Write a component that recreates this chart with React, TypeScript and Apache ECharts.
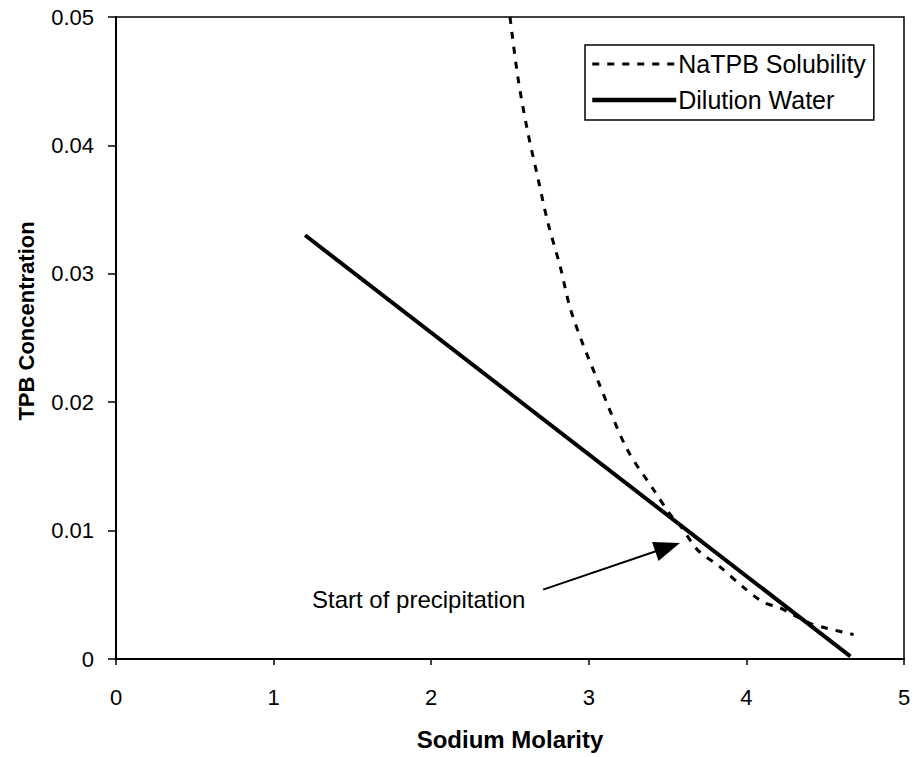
import React, { useEffect, useRef } from "react";
import * as echarts from "echarts";

const solubilityX = [2.5, 2.55, 2.61, 2.68, 2.74, 2.82, 2.88, 2.96, 3.06, 3.24, 3.41, 3.52, 3.58, 3.69, 3.83, 3.98, 4.11, 4.21, 4.4, 4.51, 4.68];
const solubilityY = [0.05, 0.0453, 0.0412, 0.0373, 0.034, 0.0305, 0.0274, 0.0246, 0.0216, 0.0164, 0.0132, 0.0112, 0.0104, 0.0085, 0.0072, 0.0056, 0.0044, 0.004, 0.0028, 0.0024, 0.0019];
const dilutionX = [1.2, 4.66];
const dilutionY = [0.033, 0.0002];
const arrowFrom = [2.71, 0.0054];
const arrowTo = [3.5, 0.0087];
const annotation = "Start of precipitation";
const seriesNames = ["NaTPB Solubility", "Dilution Water"];
const xTitle = "Sodium Molarity";
const yTitle = "TPB Concentration";

const FONT = "'Liberation Sans', Arial, sans-serif";

export default function App() {
  const ref = useRef<HTMLDivElement>(null);
  useEffect(() => {
    document.body.style.margin = "0";
    if (!ref.current) return;
    const chart = echarts.init(ref.current, null, { renderer: "svg" });
    chart.setOption({
      animation: false,
      backgroundColor: "#fff",
      grid: {
        left: 116,
        right: 10,
        top: 17,
        bottom: 98,
        show: true,
        borderColor: "#000",
        borderWidth: 1.5,
      },
      legend: {
        left: 585,
        top: 45,
        orient: "vertical",
        padding: [6, 8, 7, 5],
        borderColor: "#000",
        borderWidth: 1.5,
        backgroundColor: "#fff",
        itemWidth: 84,
        itemHeight: 14,
        itemGap: 10,
        itemStyle: { opacity: 0 },
        textStyle: { fontFamily: FONT, fontSize: 25, lineHeight: 26, color: "#000", padding: [0, 0, 0, -3] },
        data: [
          { name: seriesNames[0], lineStyle: { width: 3, type: [7, 8], color: "#000" } },
          { name: seriesNames[1], lineStyle: { width: 4.5, type: "solid", color: "#000" } },
        ],
      },
      xAxis: {
        type: "value",
        min: 0,
        max: 5,
        interval: 1,
        name: xTitle,
        nameLocation: "middle",
        nameGap: 68,
        nameTextStyle: { fontFamily: FONT, fontSize: 24, fontWeight: "bold", color: "#000" },
        axisLine: { lineStyle: { color: "#000", width: 2 } },
        axisTick: { show: true, length: 6, lineStyle: { color: "#000", width: 1.5 } },
        axisLabel: { fontFamily: FONT, fontSize: 22, color: "#000", margin: 27 },
        splitLine: { show: false },
      },
      yAxis: {
        type: "value",
        min: 0,
        max: 0.05,
        interval: 0.01,
        axisLine: { lineStyle: { color: "#000", width: 2 } },
        axisTick: { show: true, length: 8, lineStyle: { color: "#000", width: 1.5 } },
        axisLabel: {
          fontFamily: FONT,
          fontSize: 22,
          color: "#000",
          margin: 22,
          formatter: (v: number) => (v === 0 ? "0" : v.toFixed(2)),
        },
        splitLine: { show: false },
      },
      series: [
        {
          name: seriesNames[0],
          type: "line",
          data: solubilityX.map((x, i) => [x, solubilityY[i]]),
          smooth: 0.3,
          showSymbol: false,
          symbol: "none",
          clip: true,
          lineStyle: { color: "#000", width: 3, type: [7, 8] },
          itemStyle: { color: "#000" },
        },
        {
          name: seriesNames[1],
          type: "line",
          data: dilutionX.map((x, i) => [x, dilutionY[i]]),
          showSymbol: false,
          symbol: "none",
          lineStyle: { color: "#000", width: 4 },
          itemStyle: { color: "#000" },
          markLine: {
            silent: true,
            symbol: ["none", "triangle"],
            symbolSize: [20, 26],
            label: { show: false },
            lineStyle: { color: "#000", width: 2, type: "solid" },
            data: [[{ coord: arrowFrom }, { coord: arrowTo }]],
          },
        },
      ],
      graphic: [
        {
          type: "text",
          left: 312,
          top: 587,
          style: { text: annotation, fontFamily: FONT, fontSize: 24, fill: "#000" },
        },
        {
          type: "text",
          x: 26,
          y: 321,
          rotation: Math.PI / 2,
          style: {
            text: yTitle,
            fontFamily: FONT,
            fontSize: 22,
            fontWeight: "bold",
            fill: "#000",
            align: "center",
            verticalAlign: "middle",
          },
        },
      ],
    });
    return () => chart.dispose();
  }, []);
  return <div ref={ref} style={{ width: 914, height: 757 }} />;
}
